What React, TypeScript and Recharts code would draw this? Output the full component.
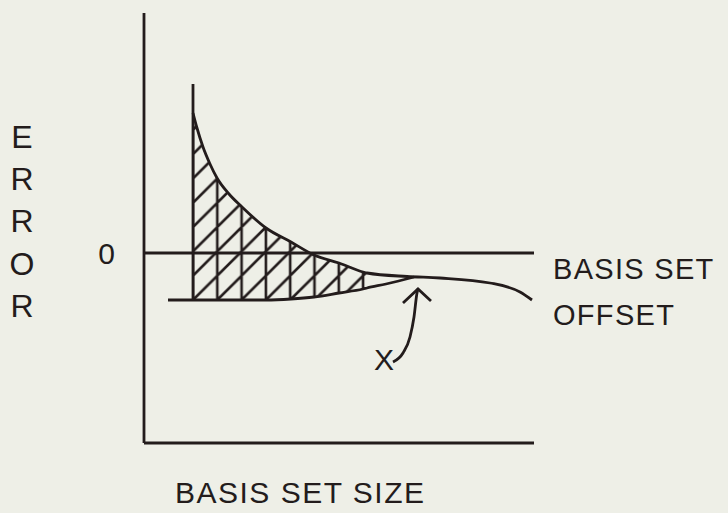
import React from 'react';
import { ComposedChart, XAxis, YAxis, Line, Area, ReferenceLine } from 'recharts';

// ---- Data (x = basis set size, y = error) ----
// Hatched region: shared x samples for the error curve (top) and the offset line (bottom)
const hatchSizes = [4.9, 5.3, 5.9, 6.6, 7.3, 8.5, 9.8, 12.2, 14.7, 17.0, 19.5, 21.9, 22.3];
const hatchErrorTop = [14.0, 12.5, 10.6, 8.9, 7.5, 5.9, 4.6, 2.5, 1.1, -0.2, -1.0, -1.9, -2.0];
const hatchErrorBottom = [-4.7, -4.7, -4.7, -4.7, -4.7, -4.7, -4.7, -4.7, -4.6, -4.4, -4.0, -3.6, -3.5];

// Rest of the error curve beyond the hatching
const tailSizes = [26.3, 29.6, 34.6, 37.6, 38.8];
const tailError = [-2.35, -2.5, -3.0, -3.9, -4.7];

// Offset line: lead-in left of the hatching and the part rising to meet the curve
const offsetLeadSizes = [2.4];
const offsetLeadError = [-4.7];
const offsetTailSizes = [24.2, 27.0];
const offsetTailError = [-3.1, -2.4];

// Vertical start line at the smallest basis set
const startSizes = [4.9, 4.9];
const startError = [-4.7, 16.9];

// Arrow from "X" to the meeting point
const arrowSizes = [24.9, 25.9, 26.6, 27.0, 27.3, 27.4];
const arrowError = [-10.9, -10.0, -8.4, -6.4, -4.0, -3.6];
const arrowHeadSizes = [25.9, 27.4, 28.7];
const arrowHeadError = [-5.0, -3.6, -4.8];

const yTicks = [0];

// Text
const yLetters = ['E', 'R', 'R', 'O', 'R'];
const xTitle = 'BASIS SET SIZE';
const offsetTitle = ['BASIS SET', 'OFFSET'];
const pointLabel = 'X';

const zip = (xs: number[], ys: number[]) => xs.map((x, i) => ({ x, y: ys[i] }));

const curveRows = zip([...hatchSizes, ...tailSizes], [...hatchErrorTop, ...tailError]);
const offsetRows = zip(
  [...offsetLeadSizes, ...hatchSizes, ...offsetTailSizes],
  [...offsetLeadError, ...hatchErrorBottom, ...offsetTailError]
);
const hatchRows = hatchSizes.map((x, i) => ({ x, lo: hatchErrorBottom[i], hi: hatchErrorTop[i] }));
const startRows = zip(startSizes, startError);
const arrowRows = zip(arrowSizes, arrowError);
const arrowHeadRows = zip(arrowHeadSizes, arrowHeadError);

const INK = '#231c1c';
const BG = '#eeefe7';
const FONT = '"Liberation Sans", Arial, Helvetica, sans-serif';
const W = 728;
const H = 513;
const T = 24.3; // hatch tile
const SW = 2.8;

export default function App() {
  return (
    <div style={{ position: 'relative', width: W, height: H, background: BG, overflow: 'hidden' }}>
      <style>{`html,body{background:${BG};margin:0;padding:0;overflow:hidden;}`}</style>
      <ComposedChart width={W} height={H} margin={{ top: 13, right: 194, bottom: 40, left: 84 }}>
        <defs>
          <pattern id="hatch" patternUnits="userSpaceOnUse" x={193} y={300} width={T} height={T}>
            <path
              d={`M0,0 V${T} M${T},0 V${T} M0,${T} L${T},0 M-2,2 L2,-2 M${T - 2},${T + 2} L${T + 2},${T - 2}`}
              stroke={INK}
              strokeWidth={2.6}
              fill="none"
            />
          </pattern>
        </defs>
        <XAxis
          type="number"
          dataKey="x"
          domain={[0, 39]}
          allowDataOverflow
          tick={false}
          tickLine={false}
          height={30}
          axisLine={{ stroke: INK, strokeWidth: SW }}
        />
        <YAxis
          type="number"
          domain={[-19, 24]}
          allowDataOverflow
          ticks={yTicks}
          width={60}
          tickLine={false}
          tickSize={0}
          tickMargin={29}
          axisLine={{ stroke: INK, strokeWidth: SW }}
          tick={{ fill: INK, fontSize: 30, fontFamily: FONT }}
        />
        <ReferenceLine y={0} stroke={INK} strokeWidth={SW} />
        <Area
          data={hatchRows}
          dataKey={(r: any) => [r.lo, r.hi]}
          type="monotone"
          stroke="none"
          fill="url(#hatch)"
          fillOpacity={1}
          isAnimationActive={false}
          activeDot={false}
          dot={false}
        />
        <Line data={curveRows} dataKey="y" type="monotone" stroke={INK} strokeWidth={SW} dot={false} activeDot={false} isAnimationActive={false} />
        <Line data={offsetRows} dataKey="y" type="monotone" stroke={INK} strokeWidth={SW} dot={false} activeDot={false} isAnimationActive={false} />
        <Line data={startRows} dataKey="y" type="linear" stroke={INK} strokeWidth={SW} dot={false} activeDot={false} isAnimationActive={false} />
        <Line data={arrowRows} dataKey="y" type="monotone" stroke={INK} strokeWidth={SW} dot={false} activeDot={false} isAnimationActive={false} />
        <Line data={arrowHeadRows} dataKey="y" type="linear" stroke={INK} strokeWidth={SW} dot={false} activeDot={false} isAnimationActive={false} />
      </ComposedChart>
      <svg width={W} height={H} style={{ position: 'absolute', left: 0, top: 0, pointerEvents: 'none' }}>
        <g fill={INK} fontFamily={FONT}>
          {yLetters.map((l, i) => (
            <text key={i} x={22} y={148 + i * 42.2} fontSize={32} textAnchor="middle">{l}</text>
          ))}
          <text x={175} y={503} fontSize={30} letterSpacing={1.5}>{xTitle}</text>
          {offsetTitle.map((l, i) => (
            <text key={l} x={553} y={279 + i * 46} fontSize={29} letterSpacing={1.3}>{l}</text>
          ))}
          <text x={384} y={370} fontSize={30} textAnchor="middle">{pointLabel}</text>
        </g>
      </svg>
    </div>
  );
}
